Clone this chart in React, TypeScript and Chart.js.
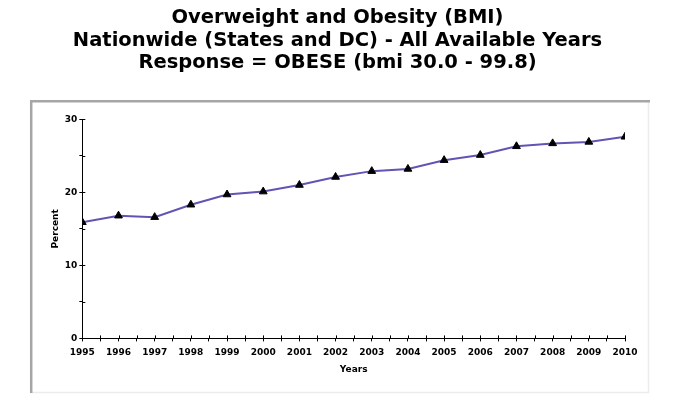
import React, { useEffect, useRef } from "react";
import { Chart, registerables } from "chart.js";

Chart.register(...registerables);

const titleLines = [
  "Overweight and Obesity (BMI)",
  "Nationwide (States and DC) - All Available Years",
  "Response = OBESE (bmi 30.0 - 99.8)",
];
const years = [1995, 1996, 1997, 1998, 1999, 2000, 2001, 2002, 2003, 2004, 2005, 2006, 2007, 2008, 2009, 2010];
const percent = [15.9, 16.8, 16.6, 18.3, 19.7, 20.1, 21.0, 22.1, 22.9, 23.2, 24.4, 25.1, 26.3, 26.7, 26.9, 27.6];
const yTickLabels = [0, 10, 20, 30];
const xAxisTitle = "Years";
const yAxisTitle = "Percent";

const FONT = "'DejaVu Sans', Verdana, sans-serif";

const framePlugin = {
  id: "frame",
  beforeDraw(chart: any) {
    const ctx = chart.ctx;
    ctx.save();
    ctx.fillStyle = "#ffffff";
    ctx.fillRect(0, 0, chart.width, chart.height);
    ctx.strokeStyle = "#ececec";
    ctx.lineWidth = 1.5;
    ctx.beginPath();
    ctx.moveTo(648.5, 101);
    ctx.lineTo(648.5, 392.5);
    ctx.lineTo(31, 392.5);
    ctx.stroke();
    ctx.strokeStyle = "#a6a6a6";
    ctx.lineWidth = 2.5;
    ctx.beginPath();
    ctx.moveTo(31.2, 393);
    ctx.lineTo(31.2, 101.2);
    ctx.lineTo(650, 101.2);
    ctx.stroke();
    ctx.restore();
  },
};

const innerTicksPlugin = {
  id: "innerTicks",
  afterDraw(chart: any) {
    const ctx = chart.ctx;
    const xs = chart.scales.x;
    const ys = chart.scales.y;
    const area = chart.chartArea;
    ctx.save();
    ctx.strokeStyle = "#000";
    ctx.lineWidth = 1;
    ctx.beginPath();
    xs.ticks.forEach((t: any) => {
      const px = Math.round(xs.getPixelForValue(t.value)) + 0.5;
      ctx.moveTo(px, area.bottom);
      ctx.lineTo(px, area.bottom - 3);
    });
    ys.ticks.forEach((t: any) => {
      const py = Math.round(ys.getPixelForValue(t.value)) + 0.5;
      ctx.moveTo(area.left, py);
      ctx.lineTo(area.left + 3, py);
    });
    ctx.stroke();
    ctx.restore();
  },
};

export default function App() {
  const ref = useRef<HTMLCanvasElement>(null);

  useEffect(() => {
    document.body.style.margin = "0";
    const canvas = ref.current!;
    const chart = new Chart(canvas, {
      type: "line",
      data: {
        datasets: [
          {
            data: years.map((y, i) => ({ x: y, y: percent[i] })),
            borderColor: "#6353b3",
            borderWidth: 2,
            pointStyle: "triangle",
            pointRadius: 4.5,
            pointBackgroundColor: "#000",
            pointBorderColor: "#000",
            pointBorderWidth: 1,
            tension: 0,
          },
        ],
      },
      options: {
        animation: false,
        responsive: false,
        layout: { padding: { left: 50, right: 55, top: 0, bottom: 33 } },
        plugins: {
          legend: { display: false },
          tooltip: { enabled: false },
          title: {
            display: true,
            text: titleLines,
            color: "#000",
            font: { family: FONT, size: 19.5, weight: "bold", lineHeight: 1.15 },
            padding: { top: 7, bottom: 45 },
          },
        },
        scales: {
          x: {
            type: "linear",
            min: years[0],
            max: years[years.length - 1],
            border: { display: true, color: "#000", width: 1 },
            grid: { display: true, drawOnChartArea: false, drawTicks: true, tickLength: 3, color: "#000" },
            ticks: {
              stepSize: 0.5,
              autoSkip: false,
              maxRotation: 0,
              color: "#000",
              padding: 6,
              font: { family: FONT, size: 9, weight: "bold" },
              callback: (v: any) => (Number.isInteger(v) ? String(v) : ""),
            },
            title: {
              display: true,
              text: xAxisTitle,
              color: "#000",
              font: { family: FONT, size: 9, weight: "bold" },
              padding: { top: 0, bottom: 0 },
            },
          },
          y: {
            min: 0,
            max: 30,
            border: { display: true, color: "#000", width: 1 },
            grid: { display: true, drawOnChartArea: false, drawTicks: true, tickLength: 3, color: "#000" },
            ticks: {
              stepSize: 5,
              color: "#000",
              padding: 2,
              font: { family: FONT, size: 9, weight: "bold" },
              callback: (v: any) => (yTickLabels.includes(v) ? String(v) : ""),
            },
            title: {
              display: true,
              text: yAxisTitle,
              color: "#000",
              font: { family: FONT, size: 9, weight: "bold" },
              padding: { top: 0, bottom: 2 },
            },
          },
        },
      },
      plugins: [framePlugin, innerTicksPlugin],
    });
    return () => chart.destroy();
  }, []);

  return (
    <div style={{ position: "absolute", left: 0, top: 0, width: 680, height: 408 }}>
      <canvas ref={ref} width={680} height={408} style={{ width: 680, height: 408 }} />
    </div>
  );
}
